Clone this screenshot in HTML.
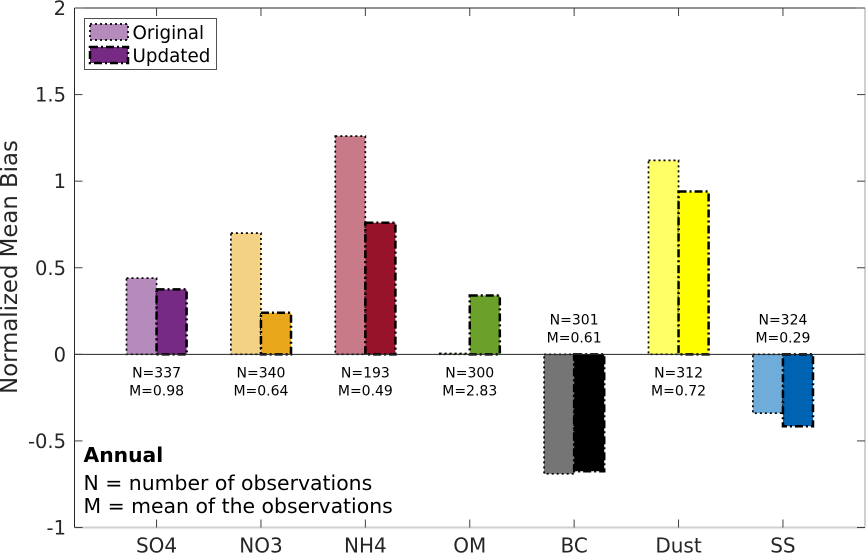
<!DOCTYPE html>
<html>
<head>
<meta charset="utf-8">
<style>
html,body{margin:0;padding:0;background:#fff;}
svg{display:block;font-family:"DejaVu Sans","Liberation Sans",sans-serif;}
</style>
</head>
<body>
<svg id="chart" width="866" height="555" viewBox="0 0 866 555" xmlns="http://www.w3.org/2000/svg">
  <rect x="0" y="0" width="866" height="555" fill="#ffffff"/>
  <g id="bars"></g>
  <g id="notes"></g>
  <g id="axes"></g>
  <text transform="translate(17,267) rotate(-90)" text-anchor="middle" font-size="22.8" fill="#262626">Normalized Mean Bias</text>
  <g>
    <rect x="84.5" y="18.5" width="132" height="51" fill="#ffffff" stroke="#262626" stroke-width="0.8"/>
    <rect x="90" y="24" width="38" height="16" fill="#b58bbc" stroke="#000" stroke-width="1.7" stroke-dasharray="2 3"/>
    <rect x="90" y="47" width="38" height="16" fill="#762a83" stroke="#000" stroke-width="2.5" stroke-dasharray="8 3 2 3"/>
    <text x="132.5" y="39" font-size="18.3" fill="#000">Original</text>
    <text x="132.5" y="62" font-size="18.3" fill="#000">Updated</text>
  </g>
  <text x="83.5" y="462" font-size="20.3" font-weight="bold" fill="#000">Annual</text>
  <text x="83.5" y="490" font-size="20.4" fill="#000">N = number of observations</text>
  <text x="83.5" y="513" font-size="20.4" fill="#000">M = mean of the observations</text>
</svg>
<script>
const categories = ['SO4', 'NO3', 'NH4', 'OM', 'BC', 'Dust', 'SS'];
const originalValues = [0.44, 0.70, 1.26, 0.005, -0.69, 1.12, -0.34];
const updatedValues = [0.375, 0.24, 0.76, 0.34, -0.675, 0.94, -0.415];
const obsCounts = [337, 340, 193, 300, 301, 312, 324];
const obsMeans = ['0.98', '0.64', '0.49', '2.83', '0.61', '0.72', '0.29'];
const originalColors = ['#b58bbc', '#f4d285', '#c87a88', '#a6c66f', '#757575', '#ffff66', '#70acd9'];
const updatedColors = ['#762a83', '#e9a81c', '#971329', '#6ba02a', '#000000', '#ffff00', '#0063b1'];
const yTicks = [-1, -0.5, 0, 0.5, 1, 1.5, 2];
const yTickLabels = ['-1', '-0.5', '0', '0.5', '1', '1.5', '2'];

const NS = 'http://www.w3.org/2000/svg';
const plotLeft = 74.5, plotRight = 865, plotTop = 8, plotBottom = 527.5;
const xMin = 0.214, xMax = 7.786, yMin = -1, yMax = 2, barWidth = 0.288;
function xScale(v) { return plotLeft + (v - xMin) / (xMax - xMin) * (plotRight - plotLeft); }
function yScale(v) { return plotBottom - (v - yMin) / (yMax - yMin) * (plotBottom - plotTop); }
function make(tag, attrs, parent) {
  const el = document.createElementNS(NS, tag);
  for (const k in attrs) el.setAttribute(k, attrs[k]);
  parent.appendChild(el);
  return el;
}
const barsG = document.getElementById('bars');
const notesG = document.getElementById('notes');
const axesG = document.getElementById('axes');

function drawBar(i, value, fill, isOriginal) {
  const pos = i + 1;
  const x0 = isOriginal ? xScale(pos - barWidth) : xScale(pos);
  const x1 = isOriginal ? xScale(pos) : xScale(pos + barWidth);
  const yA = yScale(Math.max(value, 0));
  const yB = yScale(Math.min(value, 0));
  const r = make('rect', {
    x: x0, y: yA, width: x1 - x0, height: yB - yA, fill: fill, stroke: '#000',
    'stroke-width': isOriginal ? 1.7 : 2.5,
    'stroke-dasharray': isOriginal ? '2 3' : '8 3 2 3'
  }, barsG);
  
  
}
categories.forEach(function (c, i) {
  drawBar(i, originalValues[i], originalColors[i], true);
  drawBar(i, updatedValues[i], updatedColors[i], false);
});

categories.forEach(function (c, i) {
  const negative = originalValues[i] < 0;
  const cx = xScale(i + 1);
  const zero = yScale(0);
  const nY = negative ? zero - 30 : zero + 23;
  const n = make('text', { x: cx, y: nY, 'text-anchor': 'middle', 'font-size': 14, fill: '#000' }, notesG);
  n.textContent = 'N=' + obsCounts[i];
  
  
  const m = make('text', { x: cx, y: nY + 18, 'text-anchor': 'middle', 'font-size': 14, fill: '#000' }, notesG);
  m.textContent = 'M=' + obsMeans[i];
  
  
});

const zeroLine = make('line', { x1: plotLeft, x2: plotRight, y1: yScale(0), y2: yScale(0), stroke: '#262626', 'stroke-width': 1 }, axesG);



const bottomAxis = make('line', { x1: plotLeft, x2: plotRight, y1: plotBottom, y2: plotBottom, stroke: '#d0d0d0', 'stroke-width': 2 }, axesG);


const rightAxis = make('line', { x1: plotRight, x2: plotRight, y1: plotTop, y2: plotBottom, stroke: '#d0d0d0', 'stroke-width': 2 }, axesG);


const topAxis = make('line', { x1: plotLeft, x2: plotRight, y1: plotTop, y2: plotTop, stroke: '#262626', 'stroke-width': 1 }, axesG);


const leftAxis = make('line', { x1: plotLeft, x2: plotLeft, y1: plotTop, y2: plotBottom, stroke: '#262626', 'stroke-width': 1 }, axesG);



categories.forEach(function (c, i) {
  const x = xScale(i + 1);
  const tb = make('line', { x1: x, x2: x, y1: plotBottom, y2: plotBottom - 8, stroke: '#404040', 'stroke-width': 1 }, axesG);
  
  
  const tt = make('line', { x1: x, x2: x, y1: plotTop, y2: plotTop + 8, stroke: '#404040', 'stroke-width': 1 }, axesG);
  
  
  const lab = make('text', { x: x, y: 552.5, 'text-anchor': 'middle', 'font-size': 20, fill: '#262626' }, axesG);
  lab.textContent = c;
  
  
});

yTicks.forEach(function (v, i) {
  const y = yScale(v);
  const tl = make('line', { x1: plotLeft, x2: plotLeft + 8, y1: y, y2: y, stroke: '#404040', 'stroke-width': 1 }, axesG);
  
  
  const tr = make('line', { x1: plotRight, x2: plotRight - 8, y1: y, y2: y, stroke: '#404040', 'stroke-width': 1 }, axesG);
  
  
  const lab = make('text', { x: 66, y: y + 7, 'text-anchor': 'end', 'font-size': 19.5, fill: '#262626' }, axesG);
  lab.textContent = yTickLabels[i];
  
  
});
</script>
</body>
</html>
